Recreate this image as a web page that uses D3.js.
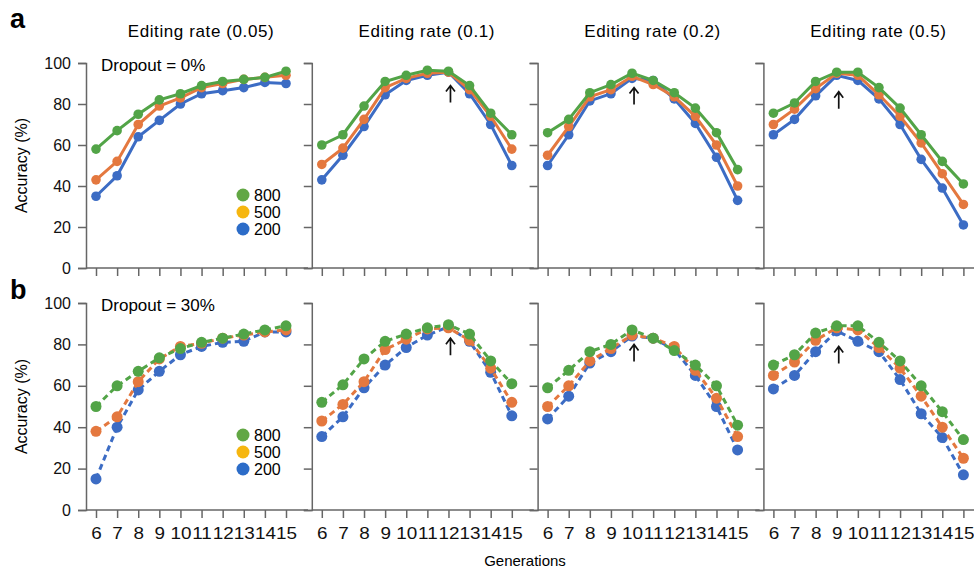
<!DOCTYPE html>
<html lang="en">
<head>
<meta charset="UTF-8">
<title>Accuracy by generation</title>
<style>
  body { margin: 0; background: #fff; }
  svg { display: block; font-family: "Liberation Sans", Arial, sans-serif; }
</style>
</head>
<body>
<svg id="chart" width="974" height="568"></svg>
<script src="https://d3js.org/d3.v7.min.js"></script>
<script>
// x categories and panel titles
var generations = [6, 7, 8, 9, 10, 11, 12, 13, 14, 15];
var editingRates = ["0.05", "0.1", "0.2", "0.5"];
var sizes = ["800", "500", "200"];
var yTicks = [0, 20, 40, 60, 80, 100];

// dropout 0% (row a), one array per editing rate
var drop0_800 = [
  [58, 67, 75, 82, 85, 89, 91, 92, 93, 96],
  [60, 65, 79, 91, 94, 96.5, 96, 89, 75.5, 65],
  [66, 72.5, 85.5, 89.5, 95, 91.5, 85.5, 78, 66, 48],
  [75.5, 80.5, 91, 95.5, 95.5, 88, 78, 65, 52, 41]
];
var drop0_500 = [
  [43, 52, 70, 79, 83, 88, 90, 92, 93, 94],
  [50.5, 58.5, 72.5, 88, 92.5, 95, 95.5, 87, 74, 58],
  [55, 69, 83.5, 87, 93.5, 89.5, 83.5, 74, 60, 40],
  [70, 77.5, 87.5, 95, 94, 84.5, 74, 61, 46, 31]
];
var drop0_200 = [
  [35, 45, 64, 72, 80, 85, 86.5, 88, 90.5, 90],
  [43, 55, 69, 84.5, 91.5, 94, 95.5, 85, 70, 50],
  [50, 65, 81.5, 85, 92.5, 91.5, 82.5, 70.5, 54, 33],
  [65, 72.5, 84, 94, 91.5, 82.5, 70, 53, 39, 21]
];

// dropout 30% (row b)
var drop30_800 = [
  [50, 60, 67, 73.5, 78, 81, 83, 85, 87, 89],
  [52, 60.5, 73, 81.5, 85, 88, 89.5, 85, 72, 61],
  [59, 67.5, 76.5, 80, 87, 83, 77, 70, 60, 41],
  [70, 75, 85.5, 89, 89, 81, 72, 60, 47.5, 34]
];
var drop30_500 = [
  [38, 45, 62, 73, 79, 80.5, 83, 84.5, 86, 87],
  [43, 51, 62, 77.5, 82.5, 87.5, 88, 82, 68.5, 52],
  [50, 60, 72, 78, 84.5, 83, 79, 67.5, 54, 35.5],
  [65, 71.5, 82, 88, 87, 78.5, 68.5, 55, 40, 25]
];
var drop30_200 = [
  [15, 40, 58, 67, 75, 79, 81, 81.5, 86, 86],
  [35.5, 45, 59, 70, 78.5, 84.5, 88.5, 81.5, 66.5, 45.5],
  [44, 55, 71, 76.5, 84, 83, 77.5, 65, 50, 29],
  [58.5, 65, 76.5, 86.5, 81.5, 76.5, 63, 46.5, 35, 17]
];

// arrows: generation of the peak, and value at the arrow tip
var arrowGen = [null, 12, 10, 9];
var arrowTip0 = [null, 89, 88, 86];
var arrowTip30 = [null, 83, 80, 79];

var rows = [
  { letter: "a", dropout: "Dropout = 0%", series: [drop0_800, drop0_500, drop0_200], tips: arrowTip0, dashed: false },
  { letter: "b", dropout: "Dropout = 30%", series: [drop30_800, drop30_500, drop30_200], tips: arrowTip30, dashed: true }
];

var lineColors = ["#52a447", "#e4783f", "#3c6cc4"];
var legendColors = ["#62a744", "#f6b60f", "#2c6cc8"];
var axisColor = "#666";

var svg = d3.select("#chart");

// layout
var panelLeft = function(i) { return 86 + i * 225.8; };
var rowRange = [[268, 63], [510, 303]];

rows.forEach(function(row, r) {
  var bottom = rowRange[r][0], top = rowRange[r][1];
  var y = d3.scaleLinear().domain([0, 100]).range([bottom, top]);

  // panel letter
  svg.append("text")
    .attr("x", 10).attr("y", r == 0 ? 28 : 299)
    .attr("font-size", 27).attr("font-weight", "bold")
    .text(row.letter);

  // y label
  svg.append("text")
    .attr("transform", "translate(27," + ((top + bottom) / 2) + ") rotate(-90)")
    .attr("text-anchor", "middle")
    .attr("font-size", 16)
    .text("Accuracy (%)");

  editingRates.forEach(function(rate, p) {
    var ax = panelLeft(p);
    var x = d3.scaleLinear().domain([6, 15]).range([ax + 10, ax + 200]);
    var g = svg.append("g");

    // title on top row
    if (r == 0) {
      g.append("text")
        .attr("x", ax + 115).attr("y", 37)
        .attr("text-anchor", "middle")
        .attr("font-size", 17)
        .attr("letter-spacing", 0.6)
        .text("Editing rate (" + rate + ")");
    }

    // x axis line and ticks
    g.append("line")
      .attr("x1", ax).attr("x2", ax + 222)
      .attr("y1", bottom).attr("y2", bottom)
      .attr("stroke", axisColor).attr("stroke-width", 1.5);

    var xa = g.append("g")
      .attr("transform", "translate(0," + bottom + ")")
      .call(d3.axisBottom(x).tickValues(generations).tickSize(8).tickSizeOuter(0).tickPadding(10)
        .tickFormat(r == 1 ? d3.format("d") : function() { return ""; }));
    xa.select(".domain").remove();
    xa.selectAll("line").attr("stroke", axisColor).attr("stroke-width", 1.5);
    xa.selectAll("text").attr("font-size", 16).attr("fill", "#111")
      .attr("font-family", "Liberation Sans, Arial, sans-serif")
      .attr("transform", "scale(1.18,1)");

    // y axis
    var ya = g.append("g")
      .attr("transform", "translate(" + ax + ",0)")
      .call(d3.axisLeft(y).tickValues(yTicks).tickSize(8).tickPadding(7)
        .tickFormat(p == 0 ? d3.format("d") : function() { return ""; }));
    ya.select(".domain").attr("stroke", axisColor).attr("stroke-width", 1.5);
    ya.selectAll("line").attr("stroke", axisColor).attr("stroke-width", 1.5);
    ya.selectAll("text").attr("font-size", 16).attr("fill", "#111")
      .attr("font-family", "Liberation Sans, Arial, sans-serif");

    // series, drawn 200 first so 800 ends on top
    var line = d3.line()
      .x(function(d, i) { return x(generations[i]); })
      .y(function(d) { return y(d); });

    [2, 1, 0].forEach(function(s) {
      var vals = row.series[s][p];
      g.append("path")
        .attr("d", line(vals))
        .attr("fill", "none")
        .attr("stroke", lineColors[s])
        .attr("stroke-width", 3)
        .attr("stroke-dasharray", row.dashed ? "6,4" : null);
      g.selectAll(null)
        .data(vals)
        .enter().append("circle")
        .attr("cx", function(d, i) { return x(generations[i]); })
        .attr("cy", function(d) { return y(d); })
        .attr("r", row.dashed ? 5.5 : 4.8)
        .attr("fill", lineColors[s]);
    });

    // arrow under the peak
    if (arrowGen[p] != null) {
      var axp = x(arrowGen[p]) + 2, ay = y(row.tips[p]);
      g.append("path")
        .attr("d", "M" + axp + "," + (ay + 17) + "V" + (ay + 0.5) +
          "M" + (axp - 4.5) + "," + (ay + 6) + "L" + axp + "," + ay + "L" + (axp + 4.5) + "," + (ay + 6))
        .attr("fill", "none")
        .attr("stroke", "#111").attr("stroke-width", 1.7);
    }

    // dropout label and legend in the first panel
    if (p == 0) {
      g.append("text")
        .attr("x", ax + 15).attr("y", top + 8)
        .attr("font-size", 17)
        .text(row.dropout);

      var lg = g.append("g").attr("transform", "translate(" + (ax + 157) + "," + (top + 132) + ")");
      sizes.forEach(function(sz, k) {
        lg.append("circle")
          .attr("cx", 0).attr("cy", k * 17)
          .attr("r", 6.5)
          .attr("fill", legendColors[k]);
        lg.append("text")
          .attr("x", 11).attr("y", k * 17 + 6)
          .attr("font-size", 16)
          .text(sz);
      });
    }
  });
});

// shared x label
svg.append("text")
  .attr("x", 525).attr("y", 566)
  .attr("text-anchor", "middle")
  .attr("font-size", 15)
  .text("Generations");
</script>
</body>
</html>
